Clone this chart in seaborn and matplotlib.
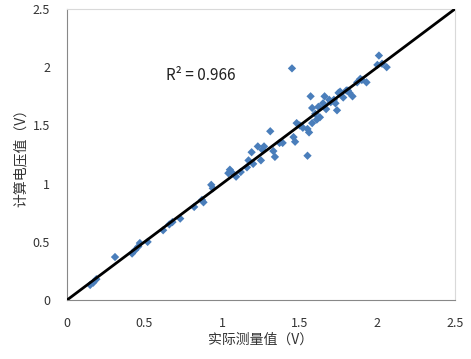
import numpy as np
import pandas as pd
import seaborn as sns
import matplotlib.pyplot as plt

# measured vs calculated voltage
measured = [0.15, 0.17, 0.19, 0.31, 0.42, 0.44, 0.46, 0.47, 0.52, 0.62,
            0.66, 0.68, 0.73, 0.82, 0.87, 0.88, 0.93, 0.94, 1.04, 1.05,
            1.06, 1.09, 1.12, 1.16, 1.17, 1.19, 1.20, 1.23, 1.25, 1.26,
            1.27, 1.31, 1.33, 1.34, 1.37, 1.39, 1.45, 1.46, 1.47, 1.48,
            1.50, 1.52, 1.55, 1.55, 1.56, 1.57, 1.58, 1.58, 1.60, 1.61,
            1.62, 1.63, 1.65, 1.66, 1.67, 1.69, 1.70, 1.72, 1.73, 1.74,
            1.75, 1.76, 1.78, 1.80, 1.81, 1.82, 1.84, 1.87, 1.89, 1.90,
            1.93, 2.00, 2.01, 2.03, 2.06]
calculated = [0.13, 0.15, 0.18, 0.37, 0.40, 0.43, 0.46, 0.49, 0.50, 0.60,
              0.65, 0.67, 0.70, 0.80, 0.86, 0.84, 0.99, 0.96, 1.09, 1.12,
              1.10, 1.06, 1.10, 1.14, 1.20, 1.27, 1.17, 1.32, 1.20, 1.29,
              1.32, 1.45, 1.28, 1.23, 1.35, 1.35, 1.99, 1.40, 1.36, 1.52,
              1.50, 1.48, 1.47, 1.24, 1.44, 1.75, 1.65, 1.52, 1.60, 1.55,
              1.66, 1.57, 1.69, 1.75, 1.64, 1.72, 1.70, 1.72, 1.69, 1.63,
              1.78, 1.79, 1.74, 1.80, 1.80, 1.78, 1.75, 1.87, 1.90, 1.89,
              1.87, 2.02, 2.10, 2.03, 2.00]
trend_x = [0, 2.5]
trend_y = [0, 2.5]
r2_text = "R² = 0.966"

df = pd.DataFrame({'measured': measured, 'calculated': calculated})

sns.set_style('white')
plt.rcParams['font.family'] = ['Noto Sans CJK SC', 'DejaVu Sans']

fig = plt.figure(figsize=(4.71, 3.59), dpi=100)
ax = fig.add_axes([0.142, 0.164, 0.824, 0.811])

sns.scatterplot(data=df, x='measured', y='calculated', marker='D', s=18,
                color='#4a7ebb', edgecolor='none', ax=ax, zorder=2)
sns.lineplot(x=trend_x, y=trend_y, color='black', linewidth=2, ax=ax, zorder=3)

ax.set_xlim(0, 2.5)
ax.set_ylim(0, 2.5)
ax.set_xticks([0, 0.5, 1, 1.5, 2, 2.5])
ax.set_yticks([0, 0.5, 1, 1.5, 2, 2.5])
ax.set_xticklabels(['0', '0.5', '1', '1.5', '2', '2.5'])
ax.set_yticklabels(['0', '0.5', '1', '1.5', '2', '2.5'])
ax.tick_params(direction='out', length=4, width=0.8, color='#888888',
               labelsize=9, labelcolor='#333333')
ax.tick_params(axis='x', pad=8)
ax.tick_params(axis='y', pad=8)

for side in ['left', 'bottom']:
    ax.spines[side].set_color('#888888')
    ax.spines[side].set_linewidth(0.8)
for side in ['top', 'right']:
    ax.spines[side].set_color('#d9d9d9')
    ax.spines[side].set_linewidth(0.8)

ax.set_xlabel('实际测量值（V）', fontsize=10, color='#333333', labelpad=2)
ax.set_ylabel('计算电压值（V）', fontsize=10, color='#333333', labelpad=4)

ax.text(0.64, 1.93, r2_text, fontsize=11, color='#222222', va='center')

fig.savefig('out.png', dpi=100)
